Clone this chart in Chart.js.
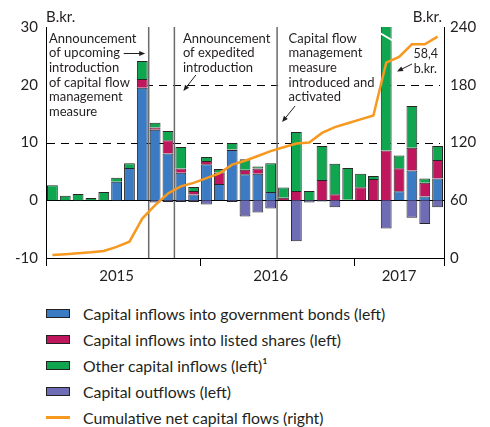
<!DOCTYPE html>
<html>
<head>
<meta charset="utf-8">
<script src="https://cdn.jsdelivr.net/npm/chart.js@4.4.1/dist/chart.umd.min.js"></script>
<style>
  body { margin: 0; background: #fff; font-family: Lato, sans-serif; color: #231f20; }
  #wrap { position: relative; width: 490px; height: 427px; }
  #legend { position: absolute; left: 46px; top: 300px; }
  .row { height: 26.2px; display: flex; align-items: center; font-size: 15.8px; }
  .sw { width: 22px; height: 7px; border: 1px solid #222; margin-right: 13px; }
  .ln { width: 24px; height: 3px; margin-right: 13px; }
</style>
</head>
<body>
<div id="wrap">
  <canvas id="chart" width="490" height="290"></canvas>
  <div id="legend"></div>
</div>
<script>
// ---------- data ----------
const months = [
  '2015-01','2015-02','2015-03','2015-04','2015-05','2015-06','2015-07','2015-08','2015-09','2015-10','2015-11','2015-12',
  '2016-01','2016-02','2016-03','2016-04','2016-05','2016-06','2016-07','2016-08','2016-09','2016-10','2016-11','2016-12',
  '2017-01','2017-02','2017-03','2017-04','2017-05','2017-06','2017-07'
];
const yearTicks = [[5, '2015'], [17, '2016'], [27, '2017']];
const yearStarts = [0, 12, 24];

const govBonds = [0, 0, 0, 0, 0, 3.2, 5.6, 19.5, 12.2, 8.1, 4.75, 1.0,
  6.25, 2.8, 8.7, 4.5, 4.6, 1.45, 0, 0, 0, 0, 0, 0,
  0, 0, 0, 1.55, 5.15, 0.65, 3.75];
const listedShares = [0, 0, 0, 0, 0, 0, 0, 1.5, 0.4, 2.3, 0.75, 0.6,
  0.55, 2.0, 0.1, 0.8, 0.9, 0, 0.45, 1.6, 0, 3.5, 1.05, 0.1,
  2.25, 3.7, 8.6, 4.0, 3.95, 2.4, 3.2];
const otherInflows = [2.6, 0.8, 1.1, 0.4, 1.45, 0.7, 0.8, 3.1, 0.8, 1.6, 3.7, 0.7,
  0.7, 0.6, 1.1, 1.8, 0.35, 4.95, 1.75, 10.2, 1.6, 5.9, 5.25, 5.5,
  2.35, 0.5, 49.8, 2.2, 7.2, 0.7, 2.45];
const outflows = [0, -0.1, -0.1, 0, 0, -0.1, 0, 0, -0.4, -0.3, -0.3, -0.3,
  -0.75, 0, -0.3, -2.8, -2.1, -1.45, 0, -7.1, -0.4, -0.2, -1.2, 0,
  0, 0, -4.9, 0, -3.05, -4.1, -1.2];
const cumulative = [3, 4, 5, 6, 7.3, 11.5, 17, 41, 55, 67, 74.5, 78,
  83, 88, 97, 101, 106, 111, 115, 119, 120, 130, 136, 140,
  144, 148, 203, 209, 222, 222, 230];

const dashedAt = [10, 20];
const eventAfter = [7, 9, 17];   // vertical line after these months

const BLUE = '#3b7bc4';
const RED = '#c0165e';
const GREEN = '#10a650';
const PURPLE = '#6f6cb6';
const ORANGE = '#f7981f';
const TEXT = '#231f20';
const FONT = 'Lato, sans-serif';

function arrow (ctx, x1, y1, x2, y2) {
    const ang = Math.atan2(y2 - y1, x2 - x1);
    ctx.beginPath();
    ctx.moveTo(x1, y1);
    ctx.lineTo(x2 - 4 * Math.cos(ang), y2 - 4 * Math.sin(ang));
    ctx.stroke();
    ctx.beginPath();
    ctx.moveTo(x2, y2);
    ctx.lineTo(x2 - 6 * Math.cos(ang) + 2.5 * Math.sin(ang), y2 - 6 * Math.sin(ang) - 2.5 * Math.cos(ang));
    ctx.lineTo(x2 - 6 * Math.cos(ang) - 2.5 * Math.sin(ang), y2 - 6 * Math.sin(ang) + 2.5 * Math.cos(ang));
    ctx.closePath();
    ctx.fill();
}

function lines (ctx, arr, x, y, lh) {
    arr.forEach((t, i) => ctx.fillText(t, x, y + i * lh));
}

const annotate = {
    id: 'annotate',
    beforeDatasetsDraw (chart) {
        const { ctx, chartArea: a, scales: { x, y } } = chart;
        const ev = eventAfter.map(i => (x.getPixelForValue(i) + x.getPixelForValue(i + 1)) / 2);
        ctx.save();
        // dashed lines
        ctx.strokeStyle = '#000';
        ctx.lineWidth = 1;
        ctx.setLineDash([8, 6]);
        dashedAt.forEach(v => {
            const py = Math.round(y.getPixelForValue(v)) + 0.5;
            ctx.beginPath();
            ctx.moveTo(a.left + 1, py);
            ctx.lineTo(a.right - 4, py);
            ctx.stroke();
        });
        ctx.setLineDash([]);
        // white boxes behind annotation text
        ctx.fillStyle = '#fff';
        ctx.fillRect(a.left + 1, a.top, ev[0] - a.left - 2, y.getPixelForValue(14) - a.top);
        const barW = x.getPixelForValue(1) - x.getPixelForValue(0);
        ctx.fillRect(ev[2] + 1, a.top, x.getPixelForValue(26) - barW / 2 - ev[2] - 1, y.getPixelForValue(16) - a.top);
        // event lines
        ctx.strokeStyle = '#6b6b6b';
        ctx.lineWidth = 1.5;
        ev.forEach(px => {
            ctx.beginPath();
            ctx.moveTo(px, a.top);
            ctx.lineTo(px, a.bottom);
            ctx.stroke();
        });
        // zero line
        ctx.strokeStyle = '#000';
        ctx.lineWidth = 1;
        const z = Math.round(y.getPixelForValue(0)) + 0.5;
        ctx.beginPath();
        ctx.moveTo(a.left, z);
        ctx.lineTo(a.right, z);
        ctx.stroke();
        ctx.restore();
    },
    afterDatasetsDraw (chart) {
        const { ctx, chartArea: a, scales: { x } } = chart;
        const ev = eventAfter.map(i => (x.getPixelForValue(i) + x.getPixelForValue(i + 1)) / 2);
        ctx.save();
        // break mark on the tall bar
        const el = chart.getDatasetMeta(2).data[26];
        ctx.strokeStyle = '#fff';
        ctx.lineWidth = 2;
        ctx.beginPath();
        ctx.moveTo(el.x - el.width / 2 - 1, a.top + 6);
        ctx.lineTo(el.x + el.width / 2 + 1, a.top + 13.5);
        ctx.stroke();

        ctx.fillStyle = TEXT;
        ctx.strokeStyle = TEXT;
        ctx.lineWidth = 1;
        ctx.textBaseline = 'middle';
        ctx.font = '13px ' + FONT;
        ctx.textAlign = 'left';
        const lh = 14.7;
        const t0 = a.top + 11.5;
        lines(ctx, ['Announcement', 'of upcoming', 'introduction', 'of capital flow', 'management', 'measure'], a.left + 3, t0, lh);
        lines(ctx, ['Announcement', 'of expedited', 'introduction'], ev[1] + 8.5, t0, lh);
        lines(ctx, ['Capital flow', 'management', 'measure', 'introduced and', 'activated'], ev[2] + 11.5, t0, lh);
        ctx.textAlign = 'right';
        ctx.font = '12.5px ' + FONT;
        ctx.fillText('58,4', a.right - 6, a.top + 26.5);
        ctx.fillText('b.kr.', a.right - 7, a.top + 41.5);

        arrow(ctx, ev[0] - 25, a.top + 26.5, ev[0] - 3.5, a.top + 26.5);
        arrow(ctx, ev[1] + 21.5, a.top + 48, ev[1] + 9, a.top + 64);
        arrow(ctx, ev[2] + 18, a.top + 79, ev[2] + 5, a.top + 95);
        arrow(ctx, a.right - 32, a.top + 37, a.right - 47, a.top + 44.5);

        // axis units
        ctx.font = '15px ' + FONT;
        ctx.textBaseline = 'alphabetic';
        ctx.textAlign = 'left';
        ctx.fillText('B.kr.', a.left, a.top - 5.5);
        ctx.textAlign = 'right';
        ctx.fillText('B.kr.', a.right - 2, a.top - 5.5);
        ctx.restore();
    }
};

const barDs = (label, data, color) => ({
    label, data,
    backgroundColor: color,
    borderColor: '#262626',
    borderWidth: 1,
    yAxisID: 'y',
    stack: 'flows',
    order: 1,
    categoryPercentage: 1,
    barPercentage: 0.84
});

const tickFont = { family: FONT, size: 15 };

const chart = new Chart(document.getElementById('chart').getContext('2d'), {
    type: 'bar',
    data: {
        labels: months,
        datasets: [
            barDs('Capital inflows into government bonds (left)', govBonds, BLUE),
            barDs('Capital inflows into listed shares (left)', listedShares, RED),
            barDs('Other capital inflows (left)¹', otherInflows, GREEN),
            barDs('Capital outflows (left)', outflows, PURPLE),
            {
                type: 'line',
                label: 'Cumulative net capital flows (right)',
                data: cumulative,
                yAxisID: 'y2',
                borderColor: ORANGE,
                backgroundColor: ORANGE,
                borderWidth: 2.5,
                pointRadius: 0,
                tension: 0,
                order: 0
            }
        ]
    },
    options: {
        responsive: false,
        animation: false,
        layout: { padding: { top: 27, left: 0, right: 0, bottom: 0 } },
        plugins: { legend: { display: false }, tooltip: { enabled: false } },
        scales: {
            x: {
                stacked: true,
                grid: {
                    offset: true,
                    drawOnChartArea: false,
                    tickLength: 8,
                    color: c => (c.index === undefined || yearStarts.includes(c.index)) ? '#000' : 'rgba(0,0,0,0)'
                },
                border: { color: '#000' },
                ticks: {
                    autoSkip: false,
                    maxRotation: 0,
                    padding: 1,
                    color: TEXT,
                    font: tickFont,
                    callback: (v, i) => {
                        const t = yearTicks.find(p => p[0] === i);
                        return t ? t[1] : '';
                    }
                },
                afterFit: s => { s.height = 32; }
            },
            y: {
                stacked: true,
                min: -10,
                max: 30,
                grid: { display: false, drawTicks: false },
                border: { color: '#000' },
                ticks: { stepSize: 10, padding: 8, color: TEXT, font: tickFont },
                afterFit: s => { s.width = 46; }
            },
            y2: {
                position: 'right',
                min: 0,
                max: 240,
                grid: { display: false, drawTicks: false },
                border: { color: '#000' },
                ticks: { stepSize: 60, padding: 6, color: TEXT, font: tickFont },
                afterFit: s => { s.width = 46; }
            }
        }
    },
    plugins: [annotate]
});

// ---------- legend ----------
var legend = document.getElementById('legend');
chart.data.datasets.forEach((ds) => {
    var row = document.createElement('div');
    row.className = 'row';
    var sw = document.createElement('span');
    sw.className = ds.type === 'line' ? 'ln' : 'sw';
    sw.style.background = ds.backgroundColor;
    var txt = document.createElement('span');
    txt.textContent = ds.label;
    row.appendChild(sw);
    row.appendChild(txt);
    legend.appendChild(row);
});
</script>
</body>
</html>
